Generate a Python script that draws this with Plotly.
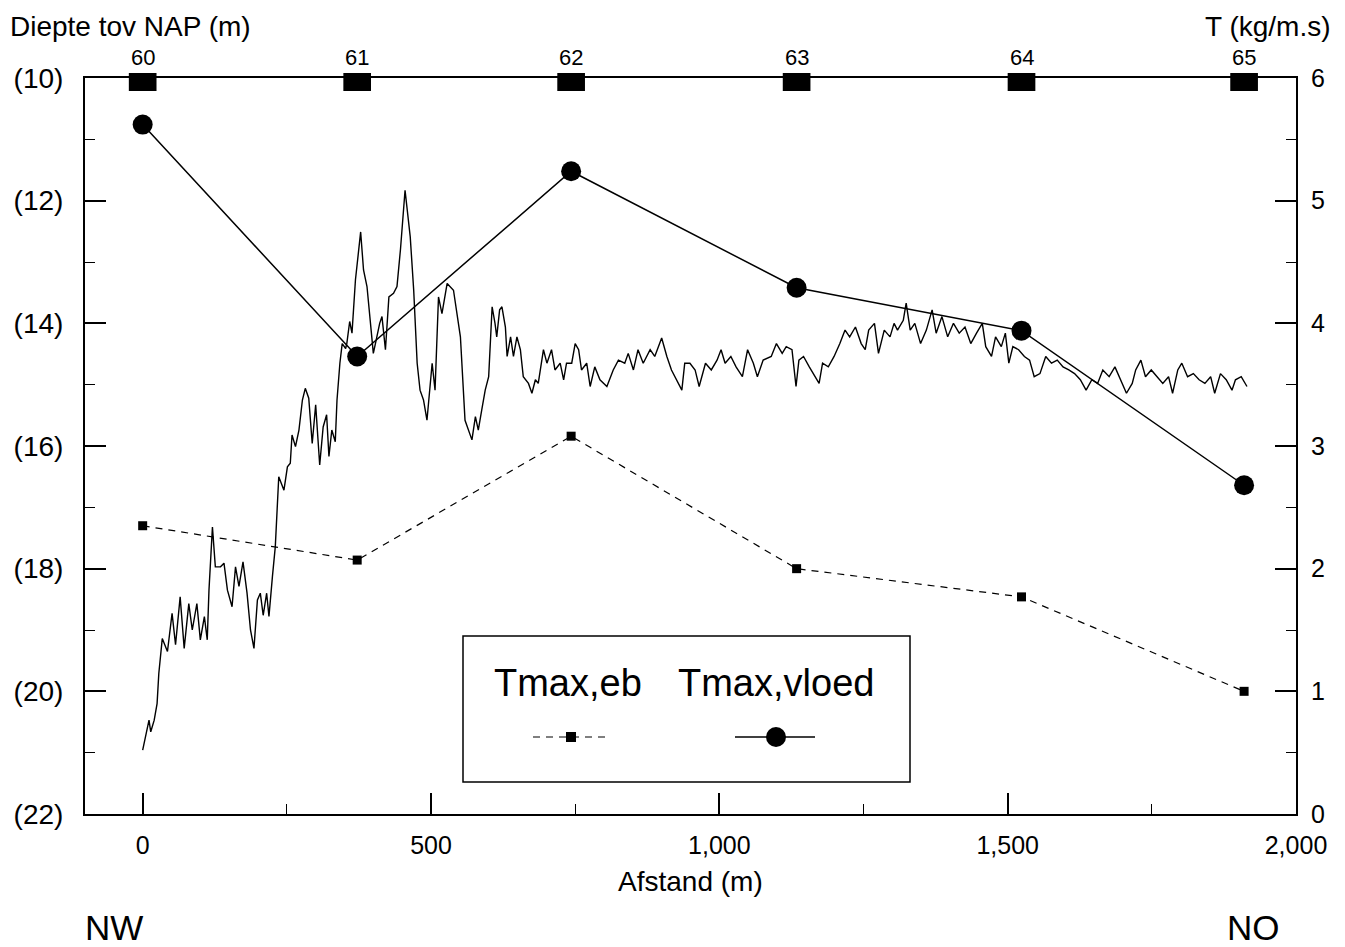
import plotly.graph_objects as go

# ---------------- data ----------------
# bed profile (depth below NAP, m) along the transect (distance, m)
profile_dist = [0,5,11,14,20,25,28,34,43,51,57,65,72,80,86,94,100,107,112,115,121,126,135,141,147,155,161,167,174,181,
                187,193,199,204,209,215,219,225,230,236,245,251,256,259,265,271,
                277,282,288,294,300,307,313,319,323,328,334,337,342,346,352,354,359,363,369,378,383,389,395,400,405,411,415,421,427,435,
                441,447,455,464,470,476,481,487,493,502,507,513,519,528,539,551,559,565,571,577,582,588,594,600,606,611,614,619,623,629,
                632,638,643,649,655,660,669,675,681,686,695,701,709,715,724,730,735,744,750,756,761,770,776,784,793,805,816,825,836,842,
                851,859,868,880,888,900,909,917,926,935,940,949,958,965,
                976,986,996,1003,1010,1020,1029,1040,1049,1059,1066,1076,1090,1099,1109,1116,1126,1133,1138,1146,
                1156,1166,1173,1179,1189,1199,1209,1218,1226,1236,1246,1253,1259,1269,1276,1286,1296,1303,1309,1319,
                1324,1331,1339,1349,1359,1369,1376,1386,1396,1406,1416,1426,1436,1446,1456,1462,1472,1479,1489,1496,
                1502,1509,1519,1529,1538,1546,1556,1566,1576,1586,1596,1606,1616,1626,1636,1646,1656,1665,1676,1686,
                1696,1706,1716,1722,1731,1739,1749,1759,1769,1779,1786,1795,1802,1812,1822,1832,1842,1852,1859,1869,
                1879,1889,1895,1905,1915]
profile_depth = [20.96,20.74,20.47,20.66,20.47,20.20,19.71,19.14,19.35,18.73,19.24,18.46,19.30,18.57,19.00,18.57,19.16,18.78,19.16,18.35,
                 17.32,17.97,17.97,17.91,18.35,18.62,17.97,18.29,17.89,18.40,19.00,19.30,18.51,18.40,18.76,18.40,18.78,18.13,17.64,16.50,
                 16.72,16.34,16.28,15.82,16.01,15.74,
                 15.25,15.06,15.22,15.96,15.33,16.31,15.69,15.49,16.17,15.74,15.93,15.25,14.65,14.33,14.41,14.33,13.97,14.16,13.29,12.51,
                 13.13,13.40,14.06,14.49,14.27,14.00,13.89,14.43,13.57,13.51,13.40,12.80,11.83,12.59,13.46,14.65,15.09,15.25,15.58,14.65,
                 15.09,13.57,13.84,13.35,13.46,14.22,15.58,15.74,15.90,15.52,15.74,15.41,15.09,14.87,13.73,14.00,14.22,13.78,13.73,14.06,
                 14.54,14.22,14.54,14.22,14.43,14.87,14.98,15.14,14.92,14.98,14.43,14.65,14.43,14.76,14.65,14.92,14.65,14.65,14.33,14.43,
                 14.76,14.65,15.03,14.71,14.92,15.03,14.76,14.60,14.65,14.49,14.76,14.43,14.65,14.43,14.54,14.24,14.54,14.76,14.92,15.09,
                 14.65,14.65,14.76,15.03,
                 14.65,14.76,14.60,14.43,14.65,14.54,14.71,14.87,14.43,14.65,14.87,14.60,14.54,14.33,14.49,14.38,14.43,15.03,14.60,14.54,
                 14.71,14.87,14.98,14.65,14.71,14.54,14.33,14.11,14.22,14.06,14.33,14.43,14.11,14.00,14.49,14.11,14.22,14.00,14.11,13.95,
                 13.67,14.11,14.00,14.33,14.11,13.78,14.16,13.89,14.22,14.00,14.16,14.06,14.33,14.16,14.00,14.38,14.54,14.22,14.38,14.16,
                 14.65,14.38,14.43,14.54,14.60,14.87,14.82,14.54,14.65,14.60,14.71,14.76,14.82,14.92,15.09,14.92,14.98,14.76,14.87,14.71,
                 14.92,15.14,14.98,14.76,14.60,14.87,14.76,14.87,14.98,14.87,15.14,14.76,14.65,14.87,14.82,14.92,14.98,14.87,15.14,14.82,
                 14.92,15.09,14.92,14.87,15.03]

# measuring stations
station_labels = ["60", "61", "62", "63", "64", "65"]
station_dist = [0, 372, 743, 1134, 1524, 1910]
t_max_eb = [2.35, 2.07, 3.08, 2.00, 1.77, 1.00]
t_max_vloed = [5.62, 3.73, 5.24, 4.29, 3.94, 2.68]

x_tickvals = [0, 500, 1000, 1500, 2000]
x_ticktext = ["0", "500", "1,000", "1,500", "2,000"]
depth_tickvals = [10, 12, 14, 16, 18, 20, 22]
depth_ticktext = ["(10)", "(12)", "(14)", "(16)", "(18)", "(20)", "(22)"]

# ---------------- layout helpers ----------------
W, H = 1345, 947
ML, MR, MT, MB = 85, 49, 78, 133
PW, PH = W - ML - MR, H - MT - MB
FONT = "Liberation Sans, Arial, sans-serif"


def px(x):
    return (x - ML) / PW


def py(y):
    return (H - MB - y) / PH


fig = go.Figure()

fig.add_trace(go.Scatter(x=profile_dist, y=profile_depth, mode="lines",
                         line=dict(color="black", width=1.4), xaxis="x", yaxis="y",
                         showlegend=False, name="bodem"))
fig.add_trace(go.Scatter(x=station_dist, y=t_max_eb, mode="lines+markers",
                         line=dict(color="black", width=1.2, dash="7px,6px"),
                         marker=dict(symbol="square", size=9, color="black"),
                         xaxis="x", yaxis="y2", showlegend=False, name="Tmax,eb"))
fig.add_trace(go.Scatter(x=station_dist, y=t_max_vloed, mode="lines+markers",
                         line=dict(color="black", width=1.5),
                         marker=dict(symbol="circle", size=20, color="black"),
                         xaxis="x", yaxis="y2", showlegend=False, name="Tmax,vloed"))

shapes = []
annotations = []

# station markers along the top edge
for s, lab in zip(station_dist, station_labels):
    shapes.append(dict(type="rect", xref="x", yref="paper", x0=s - 24, x1=s + 24,
                       y0=py(91), y1=py(73), fillcolor="black", line=dict(width=0), layer="above"))
    annotations.append(dict(x=s, xref="x", y=py(57), yref="paper", text=lab, showarrow=False,
                            font=dict(size=22, family=FONT, color="black"), xanchor="center", yanchor="middle"))

# legend box
shapes.append(dict(type="rect", xref="paper", yref="paper", x0=px(463), x1=px(910), y0=py(782), y1=py(636),
                   line=dict(color="black", width=1.5), fillcolor="white", layer="above"))
shapes.append(dict(type="line", xref="paper", yref="paper", x0=px(533), x1=px(610), y0=py(737), y1=py(737),
                   line=dict(color="black", width=1.2, dash="7px,6px"), layer="above"))
shapes.append(dict(type="rect", xref="paper", yref="paper", x0=px(566), x1=px(576), y0=py(742), y1=py(732),
                   fillcolor="black", line=dict(width=0), layer="above"))
shapes.append(dict(type="line", xref="paper", yref="paper", x0=px(735), x1=px(815), y0=py(737), y1=py(737),
                   line=dict(color="black", width=1.5), layer="above"))
shapes.append(dict(type="circle", xref="paper", yref="paper", x0=px(766), x1=px(786), y0=py(747), y1=py(727),
                   fillcolor="black", line=dict(width=0), layer="above"))
annotations.append(dict(x=px(568), y=py(683), xref="paper", yref="paper", text="Tmax,eb", showarrow=False,
                        font=dict(size=38, family=FONT, color="black"), xanchor="center", yanchor="middle"))
annotations.append(dict(x=px(776), y=py(683), xref="paper", yref="paper", text="Tmax,vloed", showarrow=False,
                        font=dict(size=38, family=FONT, color="black"), xanchor="center", yanchor="middle"))

# axis titles and direction labels
annotations += [
    dict(x=px(8), y=py(27), xref="paper", yref="paper", text="Diepte tov NAP (m)", showarrow=False,
         font=dict(size=28, family=FONT, color="black"), xanchor="left", yanchor="middle"),
    dict(x=px(1332), y=py(27), xref="paper", yref="paper", text="T (kg/m.s)", showarrow=False,
         font=dict(size=28, family=FONT, color="black"), xanchor="right", yanchor="middle"),
    dict(x=px(690), y=py(881), xref="paper", yref="paper", text="Afstand (m)", showarrow=False,
         font=dict(size=28, family=FONT, color="black"), xanchor="center", yanchor="middle"),
    dict(x=px(114), y=py(927), xref="paper", yref="paper", text="NW", showarrow=False,
         font=dict(size=35, family=FONT, color="black"), xanchor="center", yanchor="middle"),
    dict(x=px(1253), y=py(927), xref="paper", yref="paper", text="NO", showarrow=False,
         font=dict(size=35, family=FONT, color="black"), xanchor="center", yanchor="middle"),
]

axis_common = dict(showgrid=False, zeroline=False, showline=True, linecolor="black", linewidth=2,
                   ticks="inside", ticklen=21, tickwidth=1.5, tickcolor="black")

fig.update_layout(
    width=W, height=H,
    margin=dict(l=ML, r=MR, t=MT, b=MB, pad=0),
    paper_bgcolor="white", plot_bgcolor="white",
    showlegend=False,
    xaxis=dict(range=[-100, 2000], tickmode="array", tickvals=x_tickvals, ticktext=x_ticktext,
               mirror=True, ticklabelstandoff=8,
               tickfont=dict(size=25, family=FONT, color="black"),
               minor=dict(tickvals=[250, 750, 1250, 1750], ticks="inside", ticklen=10, tickwidth=1.2,
                          tickcolor="black"),
               **axis_common),
    yaxis=dict(range=[22, 10], tickmode="array", tickvals=depth_tickvals, ticktext=depth_ticktext,
               ticklabelstandoff=14,
               tickfont=dict(size=28, family=FONT, color="black"),
               minor=dict(dtick=1, ticks="inside", ticklen=10, tickwidth=1.2, tickcolor="black"),
               **axis_common),
    yaxis2=dict(range=[0, 6], overlaying="y", side="right", anchor="x", dtick=1, tick0=0,
                ticklabelstandoff=8,
                tickfont=dict(size=25, family=FONT, color="black"),
                minor=dict(dtick=0.5, ticks="inside", ticklen=10, tickwidth=1.2, tickcolor="black"),
                **axis_common),
    shapes=shapes,
    annotations=annotations,
)

fig.write_html("out.html", config={"displayModeBar": False},
               post_script="document.body.style.margin='0';document.body.style.overflow='hidden';")
